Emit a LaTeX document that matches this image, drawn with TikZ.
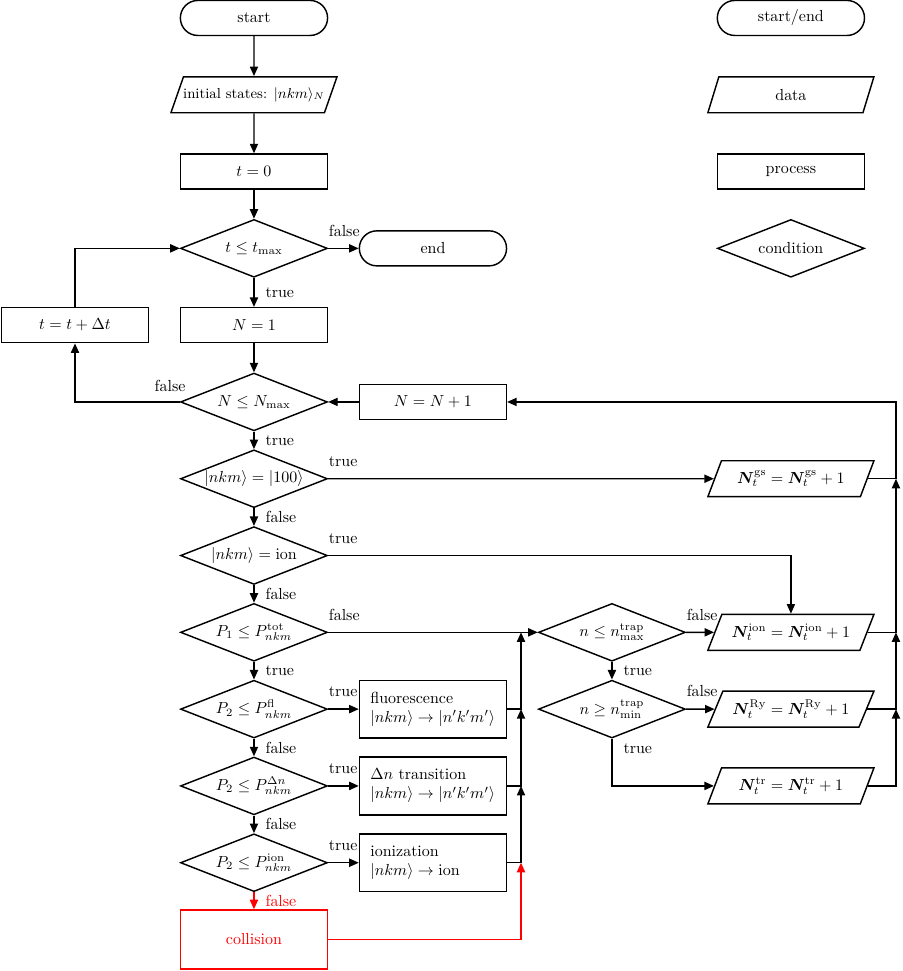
\documentclass[tikz,border=0pt]{standalone}
\usepackage{amsmath,amssymb,bm}
\usetikzlibrary{shapes.geometric,shapes.misc,arrows.meta}

\begin{document}
\begin{tikzpicture}[x=3.934cm,y=-1.688cm,line width=0.9pt,>={Triangle[length=2.1mm,width=1.8mm]},
  term/.style={draw,rounded rectangle,minimum width=3.47cm,minimum height=0.77cm},
  io/.style={draw,trapezium,trapezium left angle=63.4,trapezium right angle=116.6,trapezium stretches body,minimum width=3.65cm,minimum height=0.79cm,inner xsep=2pt},
  proc/.style={draw,rectangle,minimum width=3.23cm,minimum height=0.77cm},
  cond/.style={draw,diamond,aspect=2.54,inner sep=0pt,minimum width=3.23cm,minimum height=1.27cm},
  act/.style={draw,rectangle,minimum height=1.27cm,text width=2.75cm,inner xsep=0.24cm,align=left},
  hl/.style={pos=0,anchor=south west,inner sep=0pt,yshift=0.25cm},
  vl/.style={anchor=west,inner sep=0pt,xshift=0.24cm}]
\useasboundingbox (-0.419,-0.234) rectangle (4.626,12.41);
\foreach \s/\t/\r in {term/{start/end}/0,io/data/1,proc/process/2,cond/condition/3}
  \node[\s] (leg\r) at (4,\r) {\t};
\node[term] (start) at (1,0) {start};
\node[io,font=\small,inner xsep=-1pt] (init) at (1,1) {initial states: $|nkm\rangle_N$};
\node[proc] (tzero) at (1,2) {$t=0$};
\node[cond] (tle) at (1,3) {$t\le t_{\max}$};
\node[term] (end) at (2,3) {end};
\node[proc] (tinc) at (0,4) {$t=t+\Delta t$};
\node[proc] (None) at (1,4) {$N=1$};
\node[cond] (Nle) at (1,5) {$N\le N_{\max}$};
\node[proc] (Ninc) at (2,5) {$N=N+1$};
\node[cond] (isgs) at (1,6) {$|nkm\rangle=|100\rangle$};
\node[cond] (ision) at (1,7) {$|nkm\rangle=\mathrm{ion}$};
\node[cond] (Ptot) at (1,8) {$P_1\le P_{nkm}^{\mathrm{tot}}$};
\node[cond] (Pfl) at (1,9) {$P_2\le P_{nkm}^{\mathrm{fl}}$};
\node[cond] (Pdn) at (1,10) {$P_2\le P_{nkm}^{\Delta n}$};
\node[cond] (Pion) at (1,11) {$P_2\le P_{nkm}^{\mathrm{ion}}$};
\node[proc,red,minimum height=1.3cm] (coll) at (1,12) {collision};
\node[act] (fl) at (2,9) {fluorescence\\${|nkm\rangle\to|n'k'm'\rangle}$};
\node[act] (dn) at (2,10) {$\Delta n$ transition\\${|nkm\rangle\to|n'k'm'\rangle}$};
\node[act] (ionz) at (2,11) {ionization\\${|nkm\rangle\to\mathrm{ion}}$};
\node[cond] (nmax) at (3,8) {$n\le n_{\max}^{\mathrm{trap}}$};
\node[cond] (nmin) at (3,9) {$n\ge n_{\min}^{\mathrm{trap}}$};
\node[io] (Ngs) at (4,6) {$\bm{N}_t^{\mathrm{gs}}=\bm{N}_t^{\mathrm{gs}}+1$};
\node[io] (Nion) at (4,8) {$\bm{N}_t^{\mathrm{ion}}=\bm{N}_t^{\mathrm{ion}}+1$};
\node[io] (NRy) at (4,9) {$\bm{N}_t^{\mathrm{Ry}}=\bm{N}_t^{\mathrm{Ry}}+1$};
\node[io] (Ntr) at (4,10) {$\bm{N}_t^{\mathrm{tr}}=\bm{N}_t^{\mathrm{tr}}+1$};
\foreach \r in {8,...,11} \coordinate (L\r) at (2.492,\r);
\foreach \r in {5,6,8,9} \coordinate (R\r) at (4.587,\r);

\draw[->] (start) -- (init);
\draw[->] (init) -- (tzero);
\draw[->] (tzero) -- (tle);
\draw[->] (tle) -- node[hl]{false} (end);
\draw[->] (tle) -- node[vl]{true} (None);
\draw[->] (None) -- (Nle);
\draw[->] (Nle) -| node[pos=0,anchor=south east,inner sep=0pt,xshift=0.14cm,yshift=0.22cm]{false} (tinc);
\draw[->] (tinc) |- (tle);
\draw[->] (Ninc) -- (Nle);
\draw[->] (Nle) -- node[vl]{true} (isgs);
\draw[->] (isgs) -- node[hl]{true} (Ngs);
\draw[->] (isgs) -- node[vl]{false} (ision);
\draw[->] (ision) -| node[hl]{true} (Nion);
\draw[->] (ision) -- node[vl]{false} (Ptot);
\draw[->] (Ptot) -- node[hl]{false} (nmax);
\draw[->] (Ptot) -- node[vl]{true} (Pfl);
\draw[->] (Pfl) -- node[hl]{true} (fl);
\draw[->] (Pfl) -- node[vl]{false} (Pdn);
\draw[->] (Pdn) -- node[hl]{true} (dn);
\draw[->] (Pdn) -- node[vl]{false} (Pion);
\draw[->] (Pion) -- node[hl]{true} (ionz);
\draw[->,red] (Pion) -- node[vl]{false} (coll);
\draw[->] (nmax) -- node[hl]{false} (Nion);
\draw[->] (nmax) -- node[vl]{true} (nmin);
\draw[->] (nmin) -- node[hl]{false} (NRy);
\draw[->] (nmin) |- node[vl,pos=0.1]{true} (Ntr);
\draw[->] (fl) -| (L8);
\draw[->] (dn) -| (L9);
\draw[->] (ionz) -| (L10);
\draw[->,red] (coll) -| (L11);
\draw[->] (Ntr) -| (R9);
\draw[->] (NRy) -| (R8);
\draw[->] (Nion) -| (R6);
\draw[->] (Ngs) -| (R5) -- (Ninc);
\end{tikzpicture}
\end{document}
